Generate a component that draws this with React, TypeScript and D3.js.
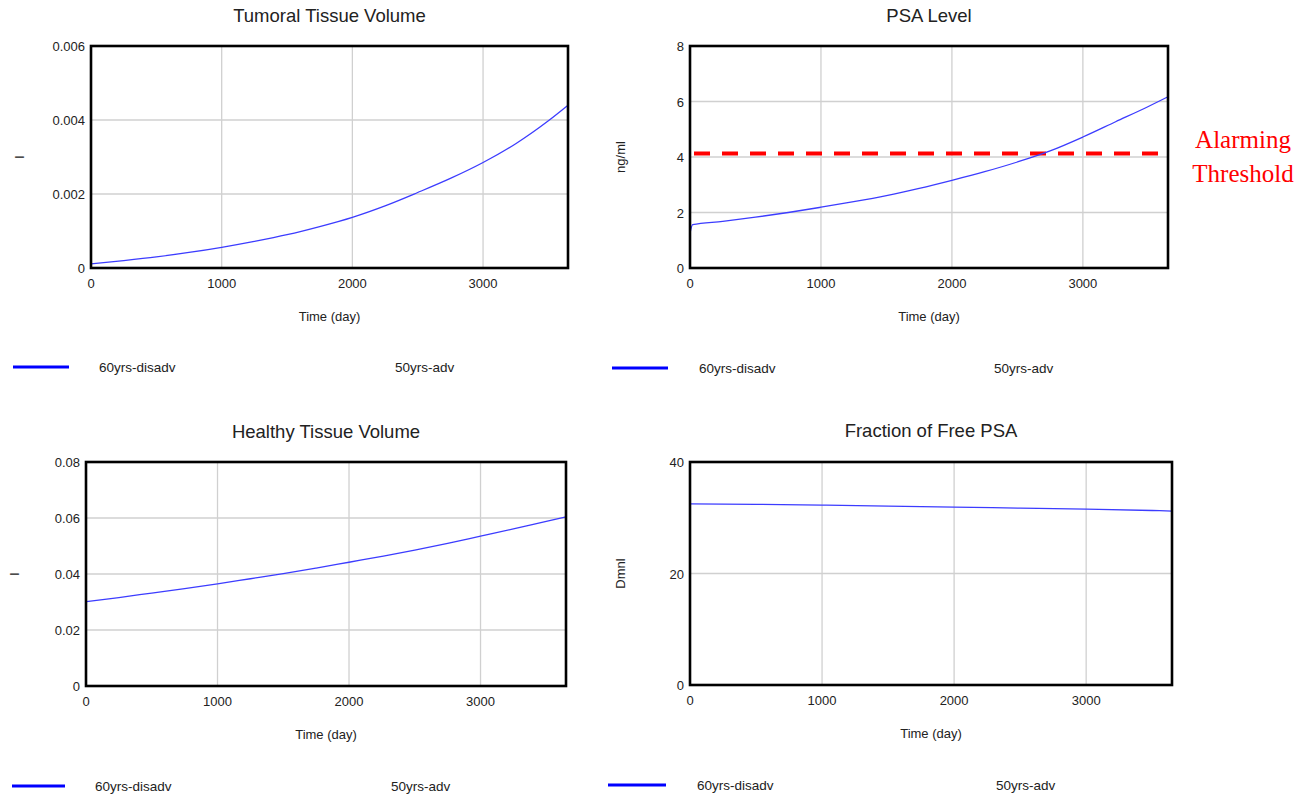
import React from "react";
import * as d3 from "d3";

const days = [0, 250, 500, 750, 1000, 1250, 1500, 1750, 2000, 2250, 2500, 2750, 3000, 3250, 3500, 3650];
const tumorValues = [0.00011, 0.0002, 0.0003, 0.00042, 0.00056, 0.00072, 0.0009, 0.00112, 0.00137, 0.00168, 0.00204, 0.00242, 0.00285, 0.00336, 0.00398, 0.0044];
const healthyValues = [0.0301, 0.0316, 0.0332, 0.0348, 0.0365, 0.0383, 0.0401, 0.0421, 0.0442, 0.0463, 0.0485, 0.0509, 0.0535, 0.0561, 0.0588, 0.0604];
const psaDays = [0, 20, 250, 500, 750, 1000, 1250, 1500, 1750, 2000, 2250, 2500, 2750, 3000, 3250, 3500, 3650];
const psaValues = [1.25, 1.56, 1.68, 1.83, 2.0, 2.19, 2.39, 2.61, 2.87, 3.16, 3.47, 3.82, 4.22, 4.72, 5.27, 5.82, 6.17];
const freeDays = [0, 500, 1000, 1500, 2000, 2500, 3000, 3500, 3650];
const freeValues = [32.5, 32.4, 32.26, 32.1, 31.9, 31.73, 31.55, 31.3, 31.2];

const xTicks = [0, 1000, 2000, 3000];
const tumorTicks = [0, 0.002, 0.004, 0.006];
const healthyTicks = [0, 0.02, 0.04, 0.06, 0.08];
const psaTicks = [0, 2, 4, 6, 8];
const freeTicks = [0, 20, 40];
const threshold = 4.13;
const legendLabels = ["60yrs-disadv", "50yrs-adv"];

const FONT = "'Liberation Sans', Arial, Helvetica, sans-serif";

type PanelProps = {
  title: string;
  yLabel: string;
  xs: number[];
  ys: number[];
  yTicks: number[];
  yFmt: (v: number) => string;
  left: number;
  right: number;
  top: number;
  bottom: number;
  titleY: number;
  yLabelX: number;
  legendY: number;
  legendLine: [number, number];
  legendText: [number, number];
  threshold?: number;
};

function Panel(p: PanelProps) {
  const x = d3.scaleLinear().domain([0, 3650]).range([p.left, p.right]);
  const y = d3
    .scaleLinear()
    .domain([0, p.yTicks[p.yTicks.length - 1]])
    .range([p.bottom, p.top]);
  const line = d3
    .line<number>()
    .x((_, i) => x(p.xs[i]))
    .y((d) => y(d))
    .curve(d3.curveMonotoneX);
  const cx = (p.left + p.right) / 2;
  return (
    <g fontFamily={FONT} fill="#222">
      <text x={cx} y={p.titleY} textAnchor="middle" fontSize={18.5} dominantBaseline="middle">
        {p.title}
      </text>
      {xTicks.map((t) => (
        <line key={"gx" + t} x1={x(t)} x2={x(t)} y1={p.top} y2={p.bottom} stroke="#d0d0d0" strokeWidth={1.3} />
      ))}
      {p.yTicks.map((t) => (
        <line key={"gy" + t} x1={p.left} x2={p.right} y1={y(t)} y2={y(t)} stroke="#d0d0d0" strokeWidth={1.3} />
      ))}
      {p.threshold !== undefined && (
        <line
          x1={x(0) + 4}
          x2={x(3650) - 3}
          y1={y(p.threshold)}
          y2={y(p.threshold)}
          stroke="#ff0000"
          strokeWidth={4}
          strokeDasharray="16 12"
        />
      )}
      <path d={line(p.ys) || ""} fill="none" stroke="#3c3cff" strokeWidth={1.3} />
      <rect
        x={p.left}
        y={p.top}
        width={p.right - p.left}
        height={p.bottom - p.top}
        fill="none"
        stroke="#000"
        strokeWidth={2.6}
      />
      {p.yTicks.map((t) => (
        <text key={"ly" + t} x={p.left - 6} y={y(t) + 2} textAnchor="end" fontSize={13} dominantBaseline="middle">
          {p.yFmt(t)}
        </text>
      ))}
      {xTicks.map((t) => (
        <text key={"lx" + t} x={x(t)} y={p.bottom + 17} textAnchor="middle" fontSize={13} dominantBaseline="middle">
          {String(t)}
        </text>
      ))}
      <text x={cx} y={p.bottom + 50} textAnchor="middle" fontSize={13} dominantBaseline="middle">
        Time (day)
      </text>
      <text
        transform={`translate(${p.yLabelX},${(p.top + p.bottom) / 2}) rotate(-90)`}
        textAnchor="middle"
        fontSize={13}
        dominantBaseline="middle"
      >
        {p.yLabel}
      </text>
      <line
        x1={p.legendLine[0]}
        x2={p.legendLine[1]}
        y1={p.legendY}
        y2={p.legendY}
        stroke="#0000ff"
        strokeWidth={3}
      />
      <text x={p.legendText[0]} y={p.legendY + 1} fontSize={13.5} dominantBaseline="middle">
        {legendLabels[0]}
      </text>
      <text x={p.legendText[1]} y={p.legendY + 1} fontSize={13.5} dominantBaseline="middle">
        {legendLabels[1]}
      </text>
    </g>
  );
}

const fmt3 = (v: number) => (v === 0 ? "0" : v.toFixed(3));
const fmt2 = (v: number) => (v === 0 ? "0" : v.toFixed(2));
const fmt0 = (v: number) => String(v);

export default function App() {
  return (
    <svg
      width={1315}
      height={798}
      style={{ position: "absolute", left: 0, top: 0, background: "#fff" }}
    >
      <rect width={1315} height={798} fill="#fff" />
      <Panel
        title="Tumoral Tissue Volume"
        yLabel="l"
        xs={days}
        ys={tumorValues}
        yTicks={tumorTicks}
        yFmt={fmt3}
        left={91}
        right={568}
        top={46}
        bottom={268}
        titleY={17}
        yLabelX={21}
        legendY={367}
        legendLine={[13, 69]}
        legendText={[99, 395]}
      />
      <Panel
        title="PSA Level"
        yLabel="ng/ml"
        xs={psaDays}
        ys={psaValues}
        yTicks={psaTicks}
        yFmt={fmt0}
        left={690}
        right={1168}
        top={46}
        bottom={268}
        titleY={17}
        yLabelX={622}
        legendY={368}
        legendLine={[612, 668]}
        legendText={[699, 994]}
        threshold={threshold}
      />
      <Panel
        title="Healthy Tissue Volume"
        yLabel="l"
        xs={days}
        ys={healthyValues}
        yTicks={healthyTicks}
        yFmt={fmt2}
        left={86}
        right={566}
        top={462}
        bottom={686}
        titleY={433}
        yLabelX={16}
        legendY={786}
        legendLine={[12, 65]}
        legendText={[95, 391]}
      />
      <Panel
        title="Fraction of Free PSA"
        yLabel="Dmnl"
        xs={freeDays}
        ys={freeValues}
        yTicks={freeTicks}
        yFmt={fmt0}
        left={690}
        right={1172}
        top={462}
        bottom={685}
        titleY={432}
        yLabelX={622}
        legendY={785}
        legendLine={[608, 666]}
        legendText={[697, 996]}
      />
      <g fontFamily="'Liberation Serif', 'Times New Roman', serif" fill="#ff0000" fontSize={25} textAnchor="middle">
        <text x={1243} y={148}>Alarming</text>
        <text x={1243} y={182}>Threshold</text>
      </g>
    </svg>
  );
}
